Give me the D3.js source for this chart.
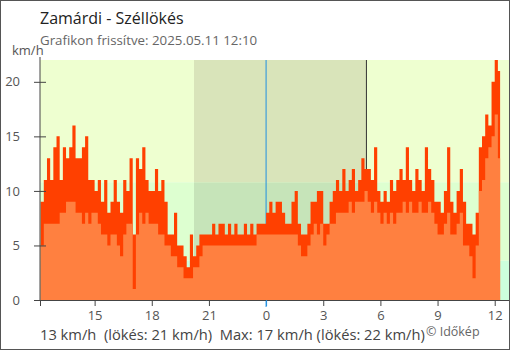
<!DOCTYPE html>
<html><head><meta charset="utf-8">
<script src="https://cdn.jsdelivr.net/npm/d3@7"></script>
<style>body{margin:0;background:#fff}svg{display:block;font-family:"Open Sans",sans-serif}</style>
</head><body><svg id="c" width="510" height="350"></svg>
<script>
const title = "Zamárdi - Széllökés";
const subtitle = "Grafikon frissítve: 2025.05.11 12:10";
const unitLabel = "km/h";
const stepMinutes = 10; // samples from 12:10 (minute 0) to 12:10 next day
const gust = [9,11,13,11,14,15,11,14,13,14,16,13,13,14,15,11,11,10,11,9,11,8,9,11,9,8,11,10,13,6,
  13,12,14,11,10,10,12,10,11,9,6,6,8,5,5,4,3,6,4,5,6,6,6,6,7,6,7,7,6,7,6,7,6,6,7,6,7,6,7,7,7,
  8,9,8,9,9,8,7,7,9,10,7,6,6,7,9,9,10,10,7,7,9,10,11,10,12,10,11,12,10,11,13,12,12,11,14,10,9,10,9,11,10,11,12,11,14,11,10,12,11,10,14,12,11,9,9,8,10,14,9,8,10,12,9,7,7,6,8,14,15,17,16,20,22,21];
const wind = [5,7,7,7,7,7,8,8,9,9,9,8,8,7,8,7,8,8,7,6,6,5,6,6,5,4,6,7,7,1,
  6,8,7,8,7,7,7,6,6,5,5,4,4,3,3,2,2,2,3,3,4,5,5,5,5,5,5,5,5,5,5,5,5,5,5,5,5,5,6,6,6,
  6,6,6,6,6,6,6,6,6,6,5,4,4,5,6,7,6,7,5,6,7,7,8,8,8,8,9,8,9,9,9,10,9,8,9,8,7,8,7,8,7,8,8,9,8,9,8,8,9,8,8,9,8,7,6,6,7,8,6,6,7,8,5,5,4,2,5,10,11,13,14,15,17,13];
const tickMinutes = [170,350,530,710,890,1070,1250,1430];
const tickLabels = ["15","18","21","0","3","6","9","12"];
const yTicks = [0,5,10,15,20];
const bandEdges = [0, 3.6, 10.8, 22];
const dayColors = ["#ccffdd","#ddffd0","#eeffd0"];
const nightColors = ["#b8e5c4","#c6e4b9","#d9e4ba"];
const sunsetMin = 483, midnightMin = 710, sunriseMin = 1026;
const footer = "13 km/h  (lökés: 21 km/h)  Max: 17 km/h (lökés: 22 km/h)";
const credit = "© Időkép";

const svg = d3.select("#c");
const x = d3.scaleLinear().domain([-2, 1475]).range([40, 509]);
const y = d3.scaleLinear().domain([0, 22]).range([300, 60]);

// background bands
const g = svg.append("g");
for (let i = 0; i < 3; i++) {
  g.append("rect").attr("x", x(-2)).attr("width", x(1475) - x(-2))
    .attr("y", y(bandEdges[i+1])).attr("height", y(bandEdges[i]) - y(bandEdges[i+1]))
    .attr("fill", dayColors[i]);
  g.append("rect").attr("x", x(sunsetMin)).attr("width", x(sunriseMin) - x(sunsetMin))
    .attr("y", y(bandEdges[i+1])).attr("height", y(bandEdges[i]) - y(bandEdges[i+1]))
    .attr("fill", nightColors[i]);
}
g.append("line").attr("x1", x(midnightMin)).attr("x2", x(midnightMin)).attr("y1", y(22)).attr("y2", 307)
  .attr("stroke", "#1f8fe0").attr("stroke-width", 1);
g.append("line").attr("x1", x(sunriseMin)).attr("x2", x(sunriseMin)).attr("y1", y(22)).attr("y2", y(0))
  .attr("stroke", "#333").attr("stroke-width", 1);

const pts = (arr) => {
  const p = arr.map((v, i) => [i * stepMinutes, v]);
  p.push([(arr.length - 1) * stepMinutes + 7, arr[arr.length - 1]]);
  return p;
};
const area = d3.area().curve(d3.curveStepAfter).x(d => x(d[0])).y0(y(0)).y1(d => y(d[1]));
svg.append("path").attr("d", area(pts(gust))).attr("fill", "#ff4000");
svg.append("path").attr("d", area(pts(wind))).attr("fill", "#ff8040");

// axes
const xa = svg.append("g").attr("transform", "translate(0,300)")
  .call(d3.axisBottom(x).tickValues(tickMinutes).tickFormat((d, i) => tickLabels[i]).tickSize(6).tickSizeOuter(6).tickPadding(5));
xa.select(".domain").attr("stroke", "#444");
xa.selectAll(".tick line").attr("stroke", d => d === midnightMin ? "#1f8fe0" : "#444");
xa.selectAll("text").attr("font-size", 13).attr("fill", "#555").attr("font-family", "Open Sans");

const ya = svg.append("g").attr("transform", "translate(40,0)")
  .call(d3.axisLeft(y).tickValues(yTicks).tickSize(6).tickSizeOuter(0).tickPadding(14));
ya.select(".domain").attr("stroke", "#444").attr("d", "M0,57V300");
ya.selectAll(".tick line").attr("stroke", "#444").attr("x1", 6);
ya.selectAll("text").attr("font-size", 13).attr("fill", "#555").attr("font-family", "Open Sans");

svg.append("text").attr("x", 40).attr("y", 24).attr("font-size", 16).attr("fill", "#222").text(title);
svg.append("text").attr("x", 40).attr("y", 45).attr("font-size", 13.3).attr("fill", "#666").text(subtitle);
svg.append("text").attr("x", 12).attr("y", 55).attr("font-size", 13).attr("fill", "#555").text(unitLabel);
svg.append("text").attr("x", 40).attr("y", 340).attr("font-size", 14.7).attr("fill", "#444")
  .attr("xml:space", "preserve").style("white-space", "pre").text(footer);
svg.append("text").attr("x", 426).attr("y", 336).attr("font-size", 12.5).attr("fill", "#666").text(credit);

svg.append("rect").attr("x", 0.5).attr("y", 0.5).attr("width", 509).attr("height", 349)
  .attr("fill", "none").attr("stroke", "#555");
</script></body></html>
